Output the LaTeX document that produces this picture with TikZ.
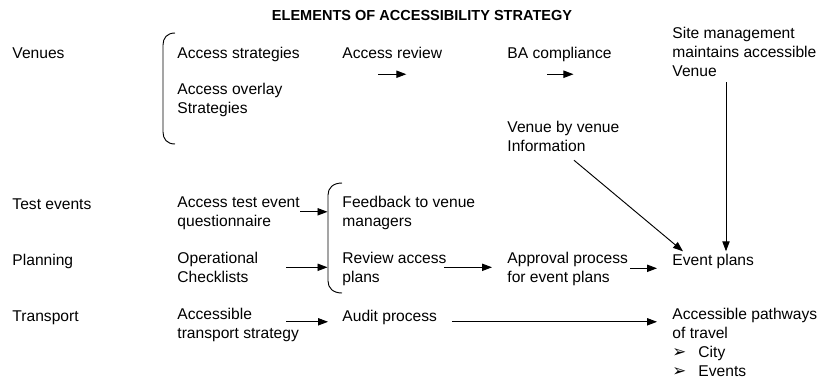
\documentclass[tikz,border=0pt]{standalone}
\usepackage{fontspec}
\setmainfont{Liberation Sans}
\newfontfamily\dingfont{DejaVu Sans}
\usetikzlibrary{arrows.meta,calc}

\newcommand\lblfont{\fontsize{11.7pt}{14.25pt}\selectfont}
\newcommand\titlefont{\fontsize{10.9pt}{13pt}\selectfont\bfseries}
\newcommand\bullitem[1]{\makebox[19.5pt][l]{\dingfont\fontsize{12.5pt}{12.5pt}\selectfont ➢}#1}

\begin{document}
\begin{tikzpicture}[x=0.75pt, y=-0.75pt, line width=0.7pt]
    \tikzstyle{every node} = [inner sep=0pt, font=\lblfont]
    \tikzstyle{item} = [anchor=north west, align=left, execute at begin node=\strut]
    \tikzstyle{arr} = [-{Triangle[length=7.5pt,width=5.5pt]}]
    \useasboundingbox (0,0) rectangle (822,379);

    \node [anchor=base, font=\titlefont] (title) at (422,20.2) {ELEMENTS OF ACCESSIBILITY STRATEGY};

    % row headings
    \node [item] (venues) at (12,44.3) {Venues};
    \node [item] (tests) at (12,195.8) {Test events};
    \node [item] (planning) at (12,251.3) {Planning};
    \node [item] (transport) at (12,307.8) {Transport};

    % venues
    \node [item] (strat) at (177,44.3) {Access strategies};
    \node [item] (overlay) at (177,82.3) {Access overlay\\Strategies};
    \node [item] (review) at (342,44.3) {Access review};
    \node [item] (bacomp) at (507,44.3) {BA compliance};
    \node [item] (sitemgmt) at (672,26.3) {Site management\\maintains accessible\\Venue};
    \node [item] (venueinfo) at (507,120.3) {Venue by venue\\Information};

    % test events and planning
    \node [item] (testq) at (177,195.8) {Access test event\\questionnaire};
    \node [item] (feedback) at (342,195.8) {Feedback to venue\\managers};
    \node [item] (checklists) at (177,251.3) {Operational\\Checklists};
    \node [item] (reviewplans) at (342,251.3) {Review access\\plans};
    \node [item] (approval) at (507,251.3) {Approval process\\for event plans};
    \node [item] (eventplans) at (672,251.3) {Event plans};

    % transport
    \node [item] (transtrat) at (177,307.8) {Accessible\\transport strategy};
    \node [item] (audit) at (342,307.8) {Audit process};
    \node [item] (pathways) at (672,307.8) {Accessible pathways\\of travel\\\bullitem{City}\\\bullitem{Events}};

    % brackets
    \draw (175,33) .. controls (167,33) and (163,38) .. (163,45) -- (163,132)
        .. controls (163,139) and (167,144) .. (175,144);
    \draw (342,183) .. controls (333,183) and (328,188) .. (328,195) -- (328,281)
        .. controls (328,288) and (333,293) .. (342,293);

    % arrows
    \draw [arr] ($(review.south)+(-14,10)$) -- ($(review.south)+(14,10)$);
    \draw [arr] ($(bacomp.south)+(-12,10)$) -- ($(bacomp.south)+(14,10)$);
    \draw [arr] ($(sitemgmt.south west)+(54,0)$) -- ($(eventplans.north west)+(54,0)$);
    \draw [arr] ($(venueinfo.south west)+(67,3)$) -- ($(eventplans.north west)+(11,0)$);
    \draw [arr] ($(testq.north east)+(0,16)$) -- ($(feedback.north west)+(-14.5,16)$);
    \draw [arr] ($(checklists.north west)+(109,16)$) -- ($(reviewplans.north west)+(-14.5,16)$);
    \draw [arr] ($(reviewplans.north east)+(-3,16)$) -- ($(approval.north west)+(-15,16)$);
    \draw [arr] ($(approval.north east)+(2,17)$) -- ($(eventplans.north west)+(-15,17)$);
    \draw [arr] ($(transtrat.north west)+(109,14)$) -- ($(audit.north west)+(-14,14)$);
    \draw [arr] ($(audit.north east)+(14.5,14)$) -- ($(pathways.north west)+(-15,14)$);
\end{tikzpicture}
\end{document}
